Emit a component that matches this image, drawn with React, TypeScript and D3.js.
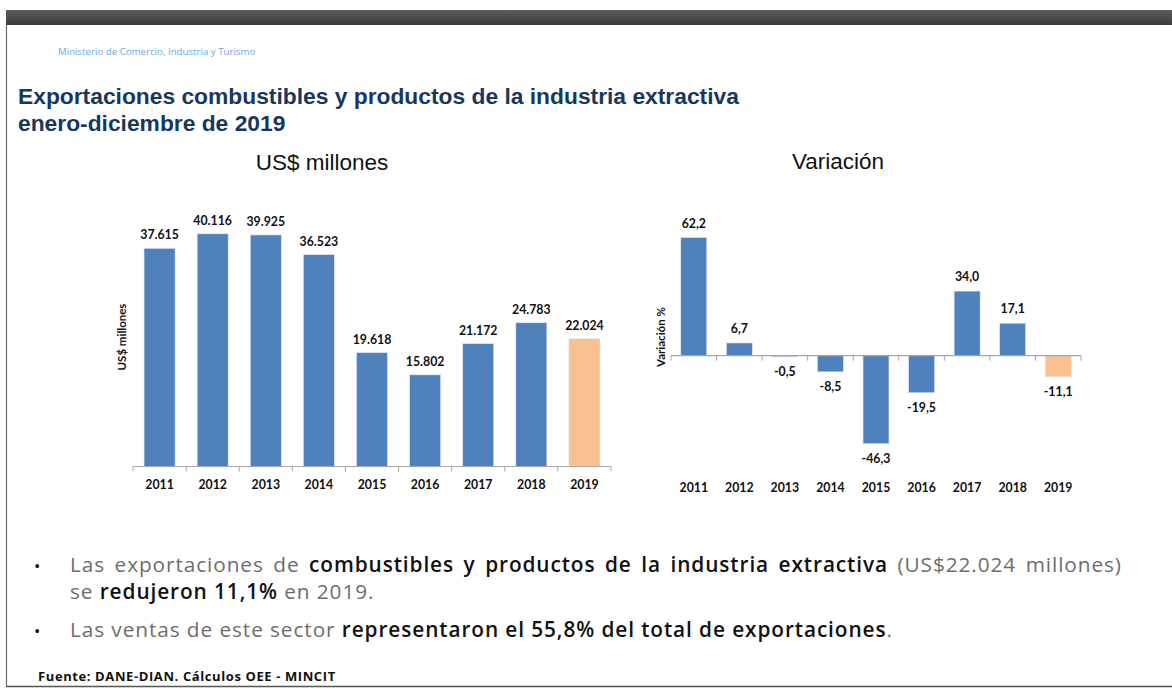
import React, { useLayoutEffect, useRef, useState } from "react";
import * as d3 from "d3";

const years = ["2011", "2012", "2013", "2014", "2015", "2016", "2017", "2018", "2019"];
const exportValues = [37615, 40116, 39925, 36523, 19618, 15802, 21172, 24783, 22024];
const exportLabels = ["37.615", "40.116", "39.925", "36.523", "19.618", "15.802", "21.172", "24.783", "22.024"];
const variationValues = [62.2, 6.7, -0.5, -8.5, -46.3, -19.5, 34.0, 17.1, -11.1];
const variationLabels = ["62,2", "6,7", "-0,5", "-8,5", "-46,3", "-19,5", "34,0", "17,1", "-11,1"];
const highlightYear = "2019";

const BLUE = "#4F81BD";
const ORANGE = "#FAC090";
const AXIS = "#A6A6A6";
const LABEL_FONT = "Lato, 'Open Sans', sans-serif";

function LeftChart() {
  const x = d3.scaleBand<string>().domain(years).range([133, 611]).paddingInner(0.416).paddingOuter(0.208);
  const y = d3.scaleLinear().domain([0, 45000]).range([466.5, 205.5]);
  const step = x.step();
  const ticks = d3.range(years.length + 1).map((i) => 133 + i * step);
  return (
    <g>
      <text x={322} y={170} textAnchor="middle" fontFamily="Arial, 'Liberation Sans', sans-serif" fontSize={22.5} fill="#111">US$ millones</text>
      {years.map((yr, i) => (
        <rect key={yr} x={x(yr)} y={y(exportValues[i])} width={x.bandwidth()} height={y(0) - y(exportValues[i])}
          fill={yr === highlightYear ? ORANGE : BLUE} stroke="#dfe6f0" strokeWidth={0.6} />
      ))}
      {years.map((yr, i) => (
        <text key={"l" + yr} x={(x(yr) as number) + x.bandwidth() / 2} y={y(exportValues[i]) - 9} textAnchor="middle"
          fontFamily={LABEL_FONT} fontWeight={700} fontSize={12.3} fill="#111">{exportLabels[i]}</text>
      ))}
      <line x1={133} x2={611} y1={y(0)} y2={y(0)} stroke={AXIS} strokeWidth={1.2} />
      {ticks.map((t, i) => (
        <line key={"t" + i} x1={t} x2={t} y1={y(0)} y2={y(0) + 5} stroke={AXIS} strokeWidth={1} />
      ))}
      {years.map((yr) => (
        <text key={"y" + yr} x={(x(yr) as number) + x.bandwidth() / 2} y={489.3} textAnchor="middle"
          fontFamily={LABEL_FONT} fontWeight={700} fontSize={12.3} fill="#111">{yr}</text>
      ))}
      <text transform="translate(126,337) rotate(-90)" textAnchor="middle" fontFamily={LABEL_FONT} fontWeight={700} fontSize={11.5} fill="#111">US$ millones</text>
    </g>
  );
}

function RightChart() {
  const x = d3.scaleBand<string>().domain(years).range([671, 1081]).paddingInner(0.43).paddingOuter(0.215);
  const y = d3.scaleLinear().domain([-60, 70]).range([469.7, 222.7]);
  const step = x.step();
  const ticks = d3.range(years.length + 1).map((i) => 671 + i * step);
  return (
    <g>
      <text x={838} y={169} textAnchor="middle" fontFamily="Arial, 'Liberation Sans', sans-serif" fontSize={22.5} fill="#111">Variación</text>
      {years.map((yr, i) => {
        const v = variationValues[i];
        return (
          <rect key={yr} x={x(yr)} y={y(Math.max(0, v))} width={x.bandwidth()} height={Math.abs(y(v) - y(0))}
            fill={yr === highlightYear ? ORANGE : BLUE} stroke="#dfe6f0" strokeWidth={0.6} />
        );
      })}
      <line x1={671} x2={1081} y1={y(0)} y2={y(0)} stroke={AXIS} strokeWidth={1.2} />
      {ticks.map((t, i) => (
        <line key={"t" + i} x1={t} x2={t} y1={y(0)} y2={y(0) + 5} stroke={AXIS} strokeWidth={1} />
      ))}
      {years.map((yr, i) => {
        const v = variationValues[i];
        const ly = v >= 0 ? y(v) - 10 : y(v) + 19;
        return (
          <text key={"l" + yr} x={(x(yr) as number) + x.bandwidth() / 2} y={ly} textAnchor="middle"
            fontFamily={LABEL_FONT} fontWeight={700} fontSize={12.3} fill="#111">{variationLabels[i]}</text>
        );
      })}
      {years.map((yr) => (
        <text key={"y" + yr} x={(x(yr) as number) + x.bandwidth() / 2} y={492} textAnchor="middle"
          fontFamily={LABEL_FONT} fontWeight={700} fontSize={12.3} fill="#111">{yr}</text>
      ))}
      <text transform="translate(665,337) rotate(-90)" textAnchor="middle" fontFamily={LABEL_FONT} fontWeight={700} fontSize={11.5} fill="#111">Variación %</text>
    </g>
  );
}

const BULLET_FONT = "'Open Sans', Roboto, sans-serif";
const GRAY = "#6f6d6b";
const DARK = "#111";
const LINE3_RIGHT = 893;
const LINE1_RIGHT = 1122;
const TEXT_LEFT = 70;
const BASE_FS = 20;
const MAX_FS = 20.8;

export default function App() {
  const line1Ref = useRef<SVGTextElement>(null);
  const line3Ref = useRef<SVGTextElement>(null);
  const [layout, setLayout] = useState({ fs: BASE_FS, ws: 0, ls: 0 });
  useLayoutEffect(() => {
    document.body.style.margin = "0";
    if (line1Ref.current && line3Ref.current) {
      const l3 = line3Ref.current.getComputedTextLength();
      const n3 = (line3Ref.current.textContent || "").length;
      const fs = Math.min(MAX_FS, BASE_FS * (LINE3_RIGHT - TEXT_LEFT) / l3);
      const l3s = l3 * fs / BASE_FS;
      const ls = Math.max(0, (LINE3_RIGHT - TEXT_LEFT - l3s) / n3);
      const n1 = (line1Ref.current.textContent || "").length;
      const l1 = line1Ref.current.getComputedTextLength() * fs / BASE_FS + ls * n1;
      const ws = (LINE1_RIGHT - TEXT_LEFT - l1) / 11;
      setLayout({ fs, ws, ls });
    }
  }, []);
  return (
    <div style={{ position: "absolute", left: 0, top: 0, width: 1172, height: 689, background: "#fff" }}>
      <svg width={1172} height={689} viewBox="0 0 1172 689">
        <defs>
          <linearGradient id="topbar" x1="0" y1="0" x2="0" y2="1">
            <stop offset="0" stopColor="#5a5c5e" />
            <stop offset="1" stopColor="#3a3c3e" />
          </linearGradient>
        </defs>
        <rect x={0} y={0} width={1172} height={689} fill="#fff" />
        <rect x={6} y={10} width={1166} height={15} fill="url(#topbar)" />
        <line x1={6.5} x2={6.5} y1={25} y2={687} stroke="#6a6a6a" strokeWidth={1.2} />
        <line x1={6} x2={1172} y1={686.5} y2={686.5} stroke="#555" strokeWidth={1.5} />

        <text x={58} y={55} fontFamily="'Open Sans', sans-serif" fontSize={9.7} fill="#6FA8E0">Ministerio de Comercio, Industria y Turismo</text>
        <text fontFamily="Arial, 'Liberation Sans', sans-serif" fontWeight={700} fontSize={22.8} fill="#17375E">
          <tspan x={18} y={104}>Exportaciones combustibles y productos de la industria extractiva</tspan>
          <tspan x={18} y={131}>enero-diciembre de 2019</tspan>
        </text>

        <LeftChart />
        <RightChart />

        <g fontFamily={BULLET_FONT} fontSize={layout.fs}>
          <text x={34} y={572} fill={DARK} fontSize={17}>•</text>
          <text ref={line1Ref} x={TEXT_LEFT} y={572} style={{ wordSpacing: layout.ws + "px", letterSpacing: layout.ls + "px" }}>
            <tspan fill={GRAY} fontWeight={400}>Las exportaciones de </tspan>
            <tspan fill={DARK} fontWeight={600}>combustibles y productos de la industria extractiva</tspan>
            <tspan fill={GRAY} fontWeight={400}> (US$22.024 millones)</tspan>
          </text>
          <text x={TEXT_LEFT} y={599} style={{ letterSpacing: layout.ls + "px" }}>
            <tspan fill={GRAY} fontWeight={400}>se </tspan>
            <tspan fill={DARK} fontWeight={600}>redujeron 11,1%</tspan>
            <tspan fill={GRAY} fontWeight={400}> en 2019.</tspan>
          </text>
          <text x={34} y={637} fill={DARK} fontSize={17}>•</text>
          <text ref={line3Ref} x={TEXT_LEFT} y={637} style={{ letterSpacing: layout.ls + "px" }}>
            <tspan fill={GRAY} fontWeight={400}>Las ventas de este sector </tspan>
            <tspan fill={DARK} fontWeight={600}>representaron el 55,8% del total de exportaciones</tspan>
            <tspan fill={GRAY} fontWeight={400}>.</tspan>
          </text>
        </g>

        <text x={38} y={681} fontFamily="'Open Sans', sans-serif" fontWeight={700} fontSize={13} letterSpacing={0.6} fill="#111">Fuente: DANE-DIAN. Cálculos OEE - MINCIT</text>
      </svg>
    </div>
  );
}
